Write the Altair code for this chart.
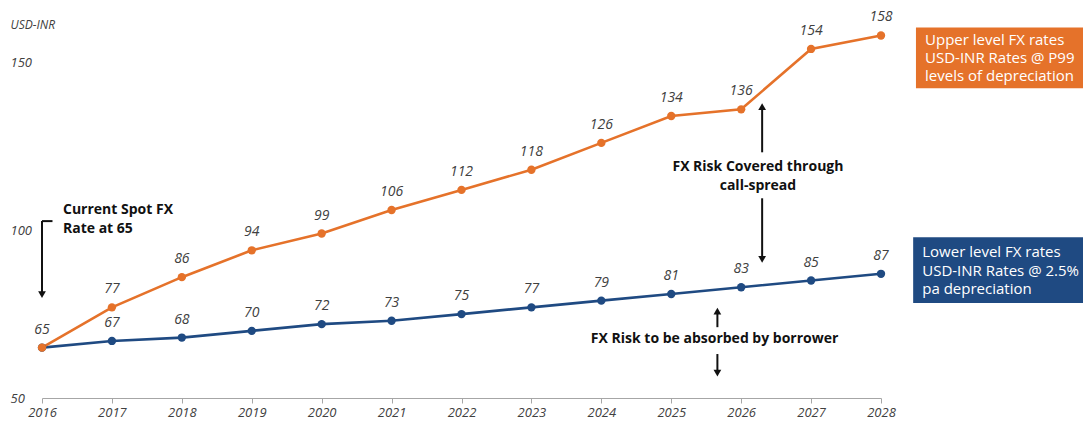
import altair as alt
import pandas as pd

years = list(range(2016, 2029))
upper = [65, 77, 86, 94, 99, 106, 112, 118, 126, 134, 136, 154, 158]
lower = [65, 67, 68, 70, 72, 73, 75, 77, 79, 81, 83, 85, 87]

ORANGE = "#E5722A"
BLUE = "#1F4A82"
TXT = "#404040"
FONT = "Open Sans"

rows = []
for y, u, l in zip(years, upper, lower):
    rows.append({"year": y, "value": l, "series": "lower"})
    rows.append({"year": y, "value": u, "series": "upper"})
df = pd.DataFrame(rows)

lab_rows = [{"year": y, "value": u, "label": str(u)} for y, u in zip(years, upper)]
lab_rows += [{"year": y, "value": l, "label": str(l)} for y, l in zip(years, lower) if y > 2016]
labels = pd.DataFrame(lab_rows)

x_scale = alt.Scale(domain=[2016, 2028], nice=False, zero=False)
y_scale = alt.Scale(domain=[50, 165], nice=False, zero=False)
color_scale = alt.Scale(domain=["lower", "upper"], range=[BLUE, ORANGE])

X = alt.X("year:Q", scale=x_scale, axis=alt.Axis(
    values=years, format="d", title=None, grid=False, labelFontStyle="italic",
    labelFont=FONT, labelFontSize=13, labelColor=TXT, domainColor="#A6A6A6",
    tickColor="#A6A6A6", tickSize=5, labelPadding=3, labelFlush=False))
Y = alt.Y("value:Q", scale=y_scale, axis=alt.Axis(
    values=[50, 100, 150], title="USD-INR", titleAngle=0, titleAlign="left",
    titleX=-32, titleY=12, titleBaseline="middle", titleFontStyle="italic",
    titleFontWeight="normal", titleFont=FONT, titleFontSize=12, titleColor=TXT,
    grid=False, domain=False, ticks=False, tickSize=0, labelPadding=32,
    labelAlign="left", labelFontStyle="italic", labelFont=FONT,
    labelFontSize=13, labelColor=TXT))

base = alt.Chart(df)
lines = base.mark_line(strokeWidth=2.6).encode(
    x=X, y=Y, color=alt.Color("series:N", scale=color_scale, legend=None),
    detail="series:N")
lower_pts = alt.Chart(df[df.series == "lower"]).mark_circle(size=70, opacity=1).encode(
    x="year:Q", y="value:Q", color=alt.Color("series:N", scale=color_scale, legend=None))
upper_pts = alt.Chart(df[df.series == "upper"]).mark_circle(size=70, opacity=1).encode(
    x="year:Q", y="value:Q", color=alt.Color("series:N", scale=color_scale, legend=None))

val_text = alt.Chart(labels).mark_text(
    dy=-18, font=FONT, fontSize=14, fontStyle="italic", color=TXT).encode(
    x="year:Q", y="value:Q", text="label:N")

# annotation texts
ann = pd.DataFrame([
    {"x": 2016.30, "y": 106.0, "t": "Current Spot FX", "a": "left"},
    {"x": 2016.30, "y": 100.3, "t": "Rate at 65", "a": "left"},
    {"x": 2026.24, "y": 118.75, "t": "FX Risk Covered through", "a": "center"},
    {"x": 2026.24, "y": 113.1, "t": "call-spread", "a": "center"},
    {"x": 2025.62, "y": 67.6, "t": "FX Risk to be absorbed by borrower", "a": "center"},
])
ann_left = alt.Chart(ann[ann.a == "left"]).mark_text(
    align="left", baseline="middle", font=FONT, fontSize=14, fontWeight="bold",
    color="#111111").encode(x="x:Q", y="y:Q", text="t:N")
ann_center = alt.Chart(ann[ann.a == "center"]).mark_text(
    align="center", baseline="middle", font=FONT, fontSize=14, fontWeight="bold",
    color="#111111").encode(x="x:Q", y="y:Q", text="t:N")

# arrow shafts
shafts = pd.DataFrame([
    {"x": 2016.0, "x2": 2016.0, "y": 102.7, "y2": 81.0},
    {"x": 2016.0, "x2": 2016.15, "y": 102.7, "y2": 102.7},
    {"x": 2026.30, "x2": 2026.30, "y": 136.5, "y2": 123.2},
    {"x": 2026.30, "x2": 2026.30, "y": 109.5, "y2": 91.5},
    {"x": 2025.66, "x2": 2025.66, "y": 76.0, "y2": 71.1},
    {"x": 2025.66, "x2": 2025.66, "y": 63.1, "y2": 57.5},
])
shaft = alt.Chart(shafts).mark_rule(color="#111111", strokeWidth=2).encode(
    x="x:Q", x2="x2:Q", y="y:Q", y2="y2:Q")
heads = pd.DataFrame([
    {"x": 2016.0, "y": 80.8, "s": "triangle-down"},
    {"x": 2026.30, "y": 136.8, "s": "triangle-up"},
    {"x": 2026.30, "y": 91.3, "s": "triangle-down"},
    {"x": 2025.66, "y": 75.9, "s": "triangle-up"},
    {"x": 2025.66, "y": 57.4, "s": "triangle-down"},
])
head_up = alt.Chart(heads[heads.s == "triangle-up"]).mark_point(
    shape="triangle-up", filled=True, size=60, color="#111111", opacity=1).encode(
    x="x:Q", y="y:Q")
head_down = alt.Chart(heads[heads.s == "triangle-down"]).mark_point(
    shape="triangle-down", filled=True, size=60, color="#111111", opacity=1).encode(
    x="x:Q", y="y:Q")

# legend-like boxes
boxes = pd.DataFrame([
    {"x": 2028.50, "x2": 2030.89, "y": 142.3, "y2": 160.4, "series": "upper"},
    {"x": 2028.46, "x2": 2030.94, "y": 78.3, "y2": 97.9, "series": "lower"},
])
box = alt.Chart(boxes).mark_rect().encode(
    x="x:Q", x2="x2:Q", y="y:Q", y2="y2:Q",
    color=alt.Color("series:N", scale=color_scale, legend=None))
box_txt = pd.DataFrame([
    {"x": 2028.63, "y": 156.8, "t": "Upper level FX rates"},
    {"x": 2028.63, "y": 151.2, "t": "USD-INR Rates @ P99"},
    {"x": 2028.63, "y": 145.8, "t": "levels of depreciation"},
    {"x": 2028.59, "y": 93.45, "t": "Lower level FX rates"},
    {"x": 2028.59, "y": 87.8, "t": "USD-INR Rates @ 2.5%"},
    {"x": 2028.59, "y": 82.4, "t": "pa depreciation"},
])
box_text = alt.Chart(box_txt).mark_text(
    align="left", baseline="middle", font=FONT, fontSize=15, color="white").encode(
    x="x:Q", y="y:Q", text="t:N")

chart = alt.layer(
    lines, lower_pts, upper_pts, val_text, shaft, head_up, head_down,
    ann_left, ann_center, box, box_text
).properties(
    width=839, height=386,
    autosize=alt.AutoSizeParams(type="none"),
    padding={"left": 34, "top": 4, "right": 202, "bottom": 25},
    background="white",
).configure_view(stroke=None, clip=False)

chart.save("out.html", embed_options={"renderer": "svg", "actions": False})
